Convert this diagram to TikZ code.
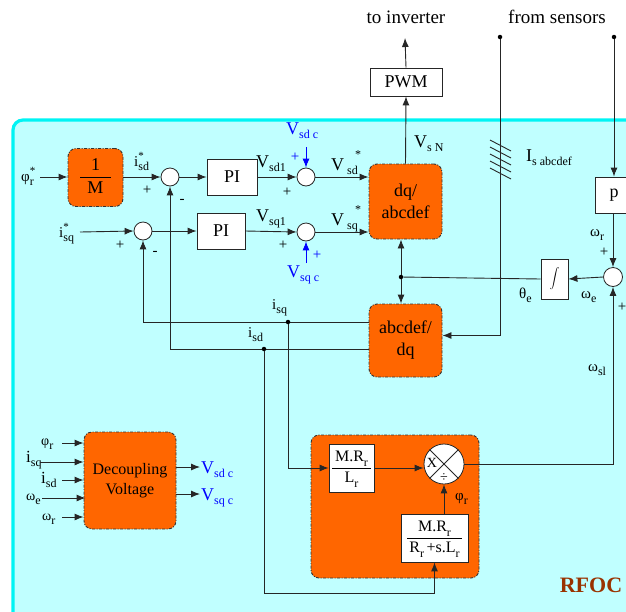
\documentclass[tikz,border=0pt]{standalone}
\usepackage{fontspec}
\setmainfont{Liberation Serif}
\usetikzlibrary{arrows.meta}
\definecolor{cyanbg}{HTML}{C0FFFF}
\definecolor{cyanbd}{HTML}{00F4F4}
\definecolor{orng}{HTML}{FF6600}
\definecolor{rfoc}{HTML}{993300}
\definecolor{vblue}{HTML}{0000FF}
\newcommand{\lo}[1]{\raisebox{-4.5pt}{\fontsize{12}{12}\selectfont #1}}
\newcommand{\hi}[1]{\rlap{\raisebox{7pt}{\fontsize{11}{11}\selectfont #1}}}
\tikzset{
 lbl/.style={inner sep=0pt, font=\fontsize{18}{20}\selectfont},
 slbl/.style={inner sep=0pt, font=\fontsize{15}{17}\selectfont},
 blk/.style={draw=black!85, fill=white, line width=0.8pt, inner sep=0pt, font=\fontsize{18}{20}\selectfont},
 oblk/.style={draw=black!80, fill=orng, dash pattern=on 3pt off 1.5pt on 1pt off 1.5pt, line width=0.9pt, rounded corners=8pt, inner sep=0pt, align=center, font=\fontsize{18}{22}\selectfont},
 sumc/.style={circle, draw=black!85, fill=white, line width=0.8pt, minimum size=18pt, inner sep=0pt},
 arr/.style={-{Latex[length=9pt,width=7pt]}, line width=0.9pt, draw=black!85},
 barr/.style={-{Latex[length=9pt,width=7pt]}, line width=0.9pt, draw=vblue},
 ln/.style={line width=0.9pt, draw=black!85},
 dotc/.style={circle, fill=black, inner sep=0pt, minimum size=4.5pt},
 sgn/.style={inner sep=0pt, font=\fontsize{15}{15}\selectfont},
 star/.style={inner sep=0pt, font=\fontsize{12}{12}\selectfont},
}
\begin{document}
\begin{tikzpicture}[x=1pt,y=-1pt]
\useasboundingbox (0,0) rectangle (626,611);
\clip (0,0) rectangle (626,611);
% frame
\draw[cyanbd, line width=3.2pt, fill=cyanbg, rounded corners=10pt] (13,120) rectangle (650,640);

% top labels
\node[lbl, font=\fontsize{19}{21}\selectfont] (toinv) at (406,17) {to inverter};
\node[lbl, font=\fontsize{19}{21}\selectfont] (fromsens) at (557,17) {from sensors};
\coordinate (invtip) at (405,38);
\node[dotc] (sd1) at (500,37) {};
\node[dotc] (sd2) at (614,37) {};

% blocks
\node[blk, minimum width=72pt, minimum height=28pt] (pwm) at (406,82) {PWM};
\node[oblk, minimum width=55pt, minimum height=58pt] (onem) at (95.5,177.5)
  {\setlength{\tabcolsep}{7pt}\renewcommand{\arraystretch}{1.05}\begin{tabular}{c}1\\\hline M\end{tabular}};
\node[sumc] (s1) at (170,177) {};
\node[blk, minimum width=50pt, minimum height=36pt] (pi1) at (232,177) {PI};
\node[sumc] (s2) at (306,177) {};
\node[sumc] (s3) at (143,231) {};
\node[blk, minimum width=48pt, minimum height=36pt] (pi2) at (221,231) {PI};
\node[sumc] (s4) at (306,232) {};
\node[oblk, minimum width=73pt, minimum height=75pt] (dq) at (405.5,201.5) {dq/\\abcdef};
\node[oblk, minimum width=73pt, minimum height=73pt] (abc) at (405.5,340.5) {abcdef/\\dq};
\node[blk, minimum width=27pt, minimum height=40pt, font=\fontsize{14}{14}\selectfont] (intg) at (554.5,279) {\(\displaystyle\int\)};
\node[blk, minimum width=38pt, minimum height=36pt] (p) at (614,195) {p};
\node[sumc, minimum size=19pt] (sr) at (613,277) {};
\node[dotc] (jn) at (401,277) {};

% decoupling
\node[oblk, minimum width=92pt, minimum height=97pt, font=\fontsize{16}{20}\selectfont] (dec) at (130,480.5) {Decoupling\\Voltage};

% flux block
\node[oblk, minimum width=168pt, minimum height=143pt] (flux) at (395,506.5) {};
\node[blk, minimum width=45pt, minimum height=48pt, font=\fontsize{16}{18}\selectfont] (mrl) at (351.5,468)
  {\setlength{\tabcolsep}{3pt}\renewcommand{\arraystretch}{1.15}\begin{tabular}{c}M.R\lo{r}\\\hline L\lo{r}\end{tabular}};
\node[blk, minimum width=67pt, minimum height=48pt, font=\fontsize{16}{18}\selectfont] (fb) at (434.5,538)
  {\setlength{\tabcolsep}{2pt}\renewcommand{\arraystretch}{1.15}\begin{tabular}{c}M.R\lo{r}\\\hline R\lo{r}\,+s.L\lo{r}\end{tabular}};
\node[circle, draw=black!85, fill=white, line width=0.8pt, minimum size=40pt, inner sep=0pt] (mult) at (444,464) {};
\draw[ln] (mult.north west) -- (mult.south east);
\draw[ln] (mult.north east) -- (mult.south west);
\node[inner sep=0pt, font=\fontsize{14}{14}\selectfont] (mx) at (432,463) {X};
\node[inner sep=0pt, font=\fontsize{14}{14}\selectfont] (md) at (444,478) {÷};

% labels main
\node[slbl, anchor=base west] (phis) at (21,181) {φ\hi{*}\lo{r}};
\node[slbl, anchor=base west] (isds) at (134,166) {i\hi{*}\lo{sd}};
\node[slbl, anchor=base west] (isqs) at (59,237) {i\hi{*}\lo{sq}};
\coordinate (phiin) at (40,177);
\coordinate (isqin) at (80,232);
\node[lbl, anchor=base west] (vsd1) at (256,167) {V\lo{sd1}};
\node[lbl, anchor=base west] (vsq1) at (256,221) {V\lo{sq1}};
\node[lbl, anchor=base west] (vsds) at (331,170) {V\,\lo{sd}};
\node[star] (vsdstar) at (358,155) {*};
\node[lbl, anchor=base west] (vsqs) at (331,225) {V\,\lo{sq}};
\node[star] (vsqstar) at (358,210) {*};
\node[lbl, anchor=base west] (vsn) at (414,147) {V\lo{s N}};
\node[lbl, anchor=base west] (isab) at (526,161) {I\lo{s abcdef}};
\node[lbl, anchor=base west, text=vblue] (vsdct) at (286,134) {V\lo{sd c}};
\node[lbl, anchor=base west, text=vblue] (vsqcb) at (287,277) {V\lo{sq c}};
\coordinate (vsdcin) at (306,147);
\coordinate (vsqcin) at (306,263);
\node[slbl, anchor=base west] (wr) at (590,236) {ω\lo{r}};
\node[slbl, anchor=base west] (we) at (581,298) {ω\lo{e}};
\node[slbl, anchor=base west] (th) at (519,298) {θ\lo{e}};
\node[slbl, anchor=base west] (wsl) at (588,371) {ω\lo{sl}};
\node[slbl, anchor=base west] (isq) at (272,309) {i\lo{sq}};
\node[slbl, anchor=base west] (isd) at (248,337) {i\lo{sd}};
\node[slbl, anchor=base west] (phir) at (455,500) {φ\lo{r}};
\node[inner sep=0pt, font=\bfseries\fontsize{22}{22}\selectfont, text=rfoc] (rfoc) at (591,585) {RFOC};

% signs
\node[sgn] (p1) at (147,190) {+};
\node[sgn] (m1) at (182,201) {-};
\node[sgn] (p2) at (287,192) {+};
\node[sgn] (p3) at (120,245) {+};
\node[sgn] (m3) at (155,253) {-};
\node[sgn] (p4) at (283,245) {+};
\node[sgn, text=vblue] (bp1) at (295,157) {+};
\node[sgn, text=vblue] (bp2) at (317,255) {+};
\node[sgn] (pr1) at (604,252) {+};
\node[sgn] (pr2) at (622,307) {+};

% decoupling inputs/outputs
\node[slbl, anchor=base west, font=\fontsize{14}{16}\selectfont] (dphi) at (41,445) {φ\lo{r}};
\node[slbl, anchor=base west, font=\fontsize{17}{17}\selectfont] (disq) at (26,462) {i\lo{sq}};
\node[slbl, anchor=base west, font=\fontsize{17}{17}\selectfont] (disd) at (41,483) {i\lo{sd}};
\node[slbl, anchor=base west, font=\fontsize{14}{16}\selectfont] (dwe) at (26,500) {ω\lo{e}};
\node[slbl, anchor=base west, font=\fontsize{14}{16}\selectfont] (dwr) at (42,520) {ω\lo{r}};
\coordinate (d1) at (62,443);
\coordinate (d2) at (40,462);
\coordinate (d3) at (62,480);
\coordinate (d4) at (42,498);
\coordinate (d5) at (62,517);
\draw[arr] (d1) -- (d1 -| dec.west);
\draw[arr] (d2) -- (d2 -| dec.west);
\draw[arr] (d3) -- (d3 -| dec.west);
\draw[arr] (d4) -- ([xshift=2pt]d4 -| dec.west);
\draw[arr] (d5) -- (d5 -| dec.west);
\coordinate (o1) at (200,467);
\coordinate (o2) at (200,494);
\draw[arr] (o1 -| dec.east) -- (o1);
\draw[arr] (o2 -| dec.east) -- (o2);
\node[lbl, anchor=base west, text=vblue] (dvsd) at (201,473) {V\lo{sd c}};
\node[lbl, anchor=base west, text=vblue] (dvsq) at (201,500) {V\lo{sq c}};

% connectors
\draw[arr] (phiin) -- (onem.west |- phiin);
\draw[arr] (onem.east |- s1.west) -- (s1.west);
\draw[arr] (s1.east) -- (pi1.west);
\draw[arr] (pi1.east) -- (s2.west);
\draw[arr] (s2.east) -- (s2.east -| dq.west);
\draw[arr] (isqin) -- (s3.west);
\draw[arr] (s3.east) -- (pi2.west);
\draw[arr] (pi2.east) -- (s4.west);
\draw[arr] (s4.east) -- (s4.east -| dq.west);
\draw[barr] (vsdcin) -- (s2.north);
\draw[barr] (vsqcin) -- (s4.south);
\draw[arr] (dq.north) -- (pwm.south);
\draw[arr] (pwm.north) -- (invtip);
\draw[arr] (jn) -- (jn |- dq.south);
\draw[arr] (jn) -- (jn |- abc.north);
\draw[ln] (intg.west) -- (jn);
\draw[arr] (sr.west) -- (intg.east);
\draw[arr] (sd2) -- (p.north -| sd2);
\draw[arr] (p.south -| sr.north) -- (sr.north);
\draw[arr] (sd1) |- ([yshift=5pt]abc.east);
\foreach \k in {0,...,4} \draw[ln] (490,140+7*\k) -- (511,151+7*\k);
\draw[arr] ([yshift=18.5pt]abc.west) -| (s3.south);
\draw[arr] ([yshift=-8.5pt]abc.west) -| (s1.south);
\node[dotc] (isqdot) at (288,322) {};
\node[dotc] (isddot) at (264,349) {};
\draw[arr] (isqdot) |- (mrl.west);
\draw[arr] (mrl.east) -- (mult.west |- mrl.east);
\draw[arr] (mult.east) -| (sr.south);
\draw[arr] (mult.south |- fb.north) -- (mult.south);
\coordinate (bot) at (264,593);
\draw[arr] (isddot) -- (bot) -| (fb.south);
\end{tikzpicture}
\end{document}
